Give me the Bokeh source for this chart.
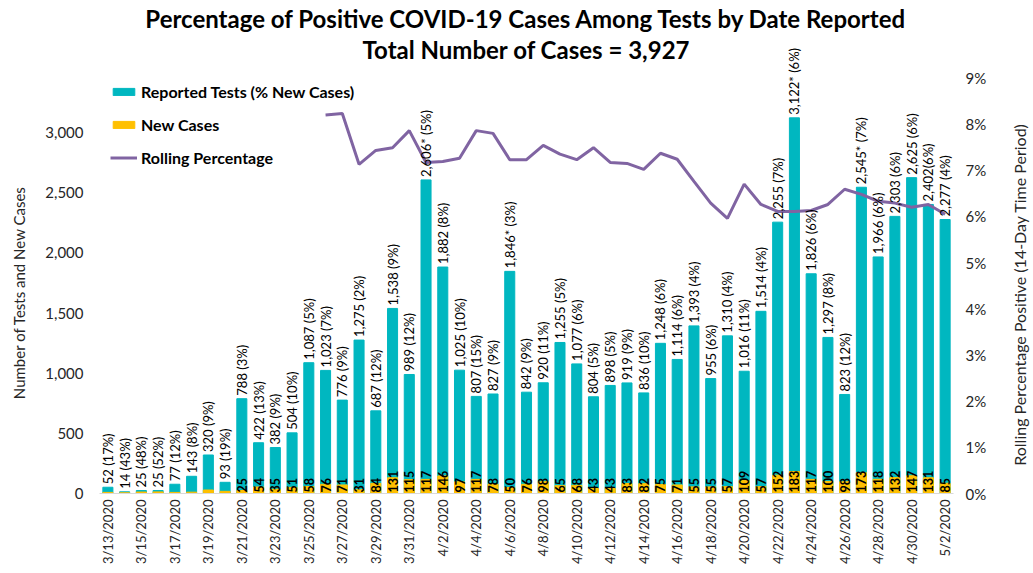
import math
from bokeh.plotting import figure
from bokeh.models import (ColumnDataSource, LinearAxis, Range1d, FixedTicker,
                          NumeralTickFormatter, PrintfTickFormatter, Legend,
                          LegendItem, LabelSet, Label)
from bokeh.core.properties import value
from bokeh.embed import file_html
from bokeh.resources import INLINE

# ---------------- data ----------------
dates = ["3/13/2020", "3/14/2020", "3/15/2020", "3/16/2020", "3/17/2020", "3/18/2020",
         "3/19/2020", "3/20/2020", "3/21/2020", "3/22/2020", "3/23/2020", "3/24/2020",
         "3/25/2020", "3/26/2020", "3/27/2020", "3/28/2020", "3/29/2020", "3/30/2020",
         "3/31/2020", "4/1/2020", "4/2/2020", "4/3/2020", "4/4/2020", "4/5/2020",
         "4/6/2020", "4/7/2020", "4/8/2020", "4/9/2020", "4/10/2020", "4/11/2020",
         "4/12/2020", "4/13/2020", "4/14/2020", "4/15/2020", "4/16/2020", "4/17/2020",
         "4/18/2020", "4/19/2020", "4/20/2020", "4/21/2020", "4/22/2020", "4/23/2020",
         "4/24/2020", "4/25/2020", "4/26/2020", "4/27/2020", "4/28/2020", "4/29/2020",
         "4/30/2020", "5/1/2020", "5/2/2020"]

tests = [52, 14, 25, 25, 77, 143, 320, 93, 788, 422, 382, 504, 1087, 1023, 776, 1275,
         687, 1538, 989, 2606, 1882, 1025, 807, 827, 1846, 842, 920, 1255, 1077, 804,
         898, 919, 836, 1248, 1114, 1393, 955, 1310, 1016, 1514, 2255, 3122, 1826, 1297,
         823, 2545, 1966, 2303, 2625, 2402, 2277]

test_labels = ["52 (17%)", "14 (43%)", "25 (48%)", "25 (52%)", "77 (12%)", "143 (8%)",
               "320 (9%)", "93 (19%)", "788 (3%)", "422 (13%)", "382 (9%)", "504 (10%)",
               "1,087 (5%)", "1,023 (7%)", "776 (9%)", "1,275 (2%)", "687 (12%)",
               "1,538 (9%)", "989 (12%)", "2,606* (5%)", "1,882 (8%)", "1,025 (10%)",
               "807 (15%)", "827 (9%)", "1,846* (3%)", "842 (9%)", "920 (11%)",
               "1,255 (5%)", "1,077 (6%)", "804 (5%)", "898 (5%)", "919 (9%)",
               "836 (10%)", "1,248 (6%)", "1,114 (6%)", "1,393 (4%)", "955 (6%)",
               "1,310 (4%)", "1,016 (11%)", "1,514 (4%)", "2,255 (7%)", "3,122* (6%)",
               "1,826 (6%)", "1,297 (8%)", "823 (12%)", "2,545* (7%)", "1,966 (6%)",
               "2,303 (6%)", "2,625 (6%)", "2,402(6%)", "2,277 (4%)"]

cases = [9, 6, 12, 13, 9, 11, 29, 18, 25, 54, 35, 51, 58, 76, 71, 31, 84, 131, 115, 117,
         146, 97, 117, 78, 50, 76, 98, 65, 68, 43, 43, 83, 82, 75, 71, 55, 55, 57, 109,
         57, 152, 183, 117, 100, 98, 173, 118, 132, 147, 131, 85]

nan = float("nan")
rolling_pct = [nan] * 13 + [8.20, 8.23, 7.13, 7.43, 7.49, 7.86, 7.17, 7.19, 7.26, 7.86,
                            7.80, 7.23, 7.23, 7.54, 7.35, 7.23, 7.49, 7.17, 7.15, 7.02,
                            7.37, 7.24, 6.76, 6.29, 5.96, 6.70, 6.26, 6.11, 6.11, 6.13,
                            6.26, 6.59, 6.48, 6.33, 6.29, 6.20, 6.26, 6.05]

left_ticks = [0, 500, 1000, 1500, 2000, 2500, 3000]
right_ticks = [0, 1, 2, 3, 4, 5, 6, 7, 8, 9]

title_text = "Percentage of Positive COVID-19 Cases Among Tests by Date Reported"
subtitle_text = "Total Number of Cases = 3,927"
left_title = "Number of Tests and New Cases"
right_title = "Rolling Percentage Positive (14-Day Time Period)"

TEAL = "#00B7C0"
ORANGE = "#FFC000"
PURPLE = "#8064A2"
FONT = "Lato"
TXT = "#262626"

x = list(range(len(dates)))
case_labels = [str(c) if i >= 8 else "" for i, c in enumerate(cases)]
src = ColumnDataSource(dict(x=x, tests=tests, cases=cases, tlab=test_labels,
                            clab=case_labels, zero=[0] * len(x), roll=rolling_pct))

W, H = 1030, 570
ML, MT = 99, 0
FW, FH = 854, 493
MR, MB = W - ML - FW, H - MT - FH
p = figure(width=W, height=H, title=None, output_backend="svg",
           toolbar_location=None,
           x_range=Range1d(-0.5, len(dates) - 0.5), y_range=Range1d(0, 4097),
           min_border_left=ML, min_border_right=MR, min_border_top=MT,
           min_border_bottom=MB)
p.extra_y_ranges = {"pct": Range1d(0, 10.678)}

p.outline_line_color = None
p.xgrid.visible = False
p.ygrid.visible = False
p.background_fill_color = "white"

r_tests = p.vbar(x="x", top="tests", width=0.6, color=TEAL, source=src)
r_cases = p.vbar(x="x", top="cases", width=0.6, color=ORANGE, source=src)
r_line = p.line(x="x", y="roll", y_range_name="pct", line_width=3, color=PURPLE,
                source=src)

p.add_layout(LabelSet(x="x", y="tests", text="tlab", angle=math.pi / 2,
                      text_align="left", text_baseline="middle", y_offset=3,
                      text_font=value(FONT), text_font_size="13px",
                      text_color="black", source=src))

p.add_layout(LabelSet(x="x", y="zero", text="clab", angle=math.pi / 2,
                      text_align="left", text_baseline="middle", y_offset=1,
                      text_font=value(FONT), text_font_size="12.5px",
                      text_font_style="bold", text_color="black", source=src))

# axes
xa = p.xaxis[0]
xa.ticker = FixedTicker(ticks=list(range(0, len(dates), 2)))
xa.major_label_overrides = {i: dates[i] for i in range(len(dates))}
xa.major_label_orientation = math.pi / 2
xa.major_label_text_font = FONT
xa.major_label_text_font_size = "13px"
xa.major_label_text_color = TXT
xa.axis_line_color = "#D9D9D9"
xa.axis_line_width = 1
xa.major_tick_line_color = None
xa.minor_tick_line_color = None
xa.major_tick_out = 0
xa.major_tick_in = 0
xa.major_label_standoff = 6

ya = p.yaxis[0]
ya.ticker = FixedTicker(ticks=left_ticks)
ya.formatter = NumeralTickFormatter(format="0,0")
ya.major_label_text_font = FONT
ya.major_label_text_font_size = "15px"
ya.major_label_text_color = TXT
ya.axis_line_color = None
ya.major_tick_line_color = None
ya.minor_tick_line_color = None
ya.major_tick_out = 0
ya.major_tick_in = 0
ya.major_label_standoff = 16

ra = LinearAxis(y_range_name="pct", ticker=FixedTicker(ticks=right_ticks),
                formatter=PrintfTickFormatter(format="%d%%"))
ra.major_label_text_font = FONT
ra.major_label_text_font_size = "15px"
ra.major_label_text_color = TXT
ra.axis_line_color = None
ra.major_tick_line_color = None
ra.minor_tick_line_color = None
ra.major_tick_out = 0
ra.major_tick_in = 0
ra.major_label_standoff = 12
p.add_layout(ra, "right")

# axis titles (canvas units, in the side panels)
p.add_layout(Label(x=18, y=292, x_units="canvas", y_units="canvas",
                   text=left_title, angle=math.pi / 2, text_align="center",
                   text_baseline="middle", text_font=FONT, text_font_size="15px",
                   text_color=TXT), "left")
p.add_layout(Label(x=1019, y=294, x_units="canvas", y_units="canvas",
                   text=right_title, angle=math.pi / 2, text_align="center",
                   text_baseline="middle", text_font=FONT, text_font_size="16px",
                   text_color=TXT), "right")

# legend
legend = Legend(items=[LegendItem(label="Reported Tests (% New Cases)", renderers=[r_tests]),
                       LegendItem(label="New Cases", renderers=[r_cases]),
                       LegendItem(label="Rolling Percentage", renderers=[r_line])],
                location=(11, FH - 167), padding=0, margin=0, spacing=13,
                glyph_width=27, glyph_height=9, label_height=20, label_standoff=4,
                label_text_font=FONT, label_text_font_size="16px",
                label_text_font_style="bold", label_text_color="black",
                background_fill_alpha=0, border_line_color=None)
p.add_layout(legend)

# chart titles (inside the frame, screen units from its bottom-left)
p.add_layout(Label(x=FW / 2, y=FH - 18, x_units="screen", y_units="screen",
                   text=title_text, text_align="center", text_baseline="middle",
                   text_font=FONT, text_font_size="24px", text_font_style="bold",
                   text_color="black"))
p.add_layout(Label(x=FW / 2, y=FH - 49, x_units="screen", y_units="screen",
                   text=subtitle_text, text_align="center", text_baseline="middle",
                   text_font=FONT, text_font_size="24px", text_font_style="bold",
                   text_color="black"))

open("out.html", "w").write(file_html(p, INLINE))
